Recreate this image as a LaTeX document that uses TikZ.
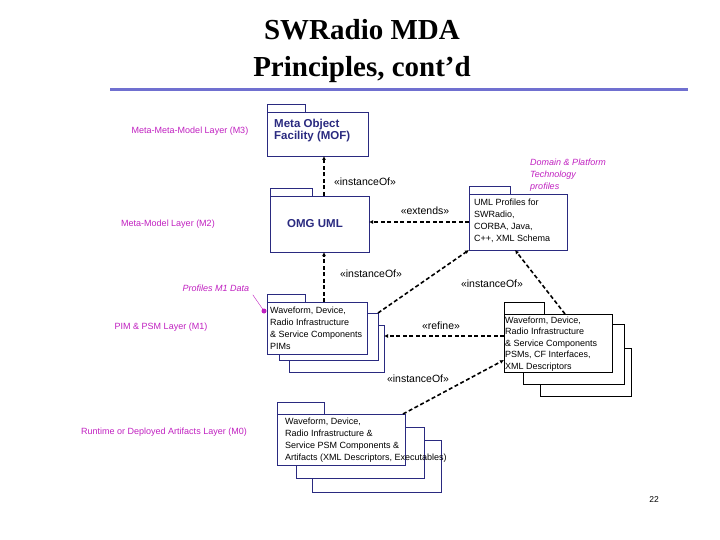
\documentclass[tikz,border=0pt]{standalone}
\usepackage{fontspec}
\setmainfont{Liberation Serif}
\newfontfamily\arial{Liberation Sans}
\usetikzlibrary{arrows.meta}
\definecolor{navy}{HTML}{2A2A80}
\definecolor{mag}{HTML}{C020C0}
\definecolor{rule}{HTML}{7070D0}
\begin{document}
\begin{tikzpicture}[x=1pt,y=-1pt,
  pkg/.style={draw=navy,fill=white,line width=0.8pt},
  lay/.style={text=mag,font=\arial\fontsize{9}{10}\selectfont},
  txt/.style={font=\arial\fontsize{9}{12}\selectfont,align=left,anchor=north west,inner sep=0pt},
  dep/.style={line width=1.6pt,dash pattern=on 4pt off 2.5pt,-{Latex[length=4pt,width=4pt]}},
  st/.style={font=\arial\fontsize{10.5}{12}\selectfont}]
\useasboundingbox (0,0) rectangle (720,540);
% title
\node[font=\bfseries\fontsize{29}{37}\selectfont,align=center] (title) at (362,51) {SWRadio MDA\\Principles, cont'd};
\draw[rule,line width=3pt] (110,90) -- (688,90);
% packages
\newcommand{\pk}[5]{\draw[pkg] (#1,#2) rectangle (#1+#3,#2+8); \draw[pkg] (#1,#2+8) rectangle (#4,#5);}
\pk{267}{104}{38}{368}{156}
\node[font=\arial\bfseries\fontsize{11.5}{11.5}\selectfont,text=navy,align=left,anchor=north west,inner sep=0pt] (mof) at (274,119) {Meta Object\\Facility (MOF)};
\pk{270}{188}{42}{369}{252}
\node[font=\arial\bfseries\fontsize{11.5}{12}\selectfont,text=navy] (uml) at (315,224) {OMG UML};
\pk{469}{186}{41}{567}{250}
\node[txt] (prof) at (474,199) {UML Profiles for\\SWRadio,\\CORBA, Java,\\C++, XML Schema};
% PIM stack
\draw[pkg] (289,325) rectangle (384,372);
\draw[pkg] (279,313) rectangle (378,360);
\pk{267}{294}{38}{367}{302}
\draw[pkg] (267,302) rectangle (367,354);
\node[txt] (pim) at (270,307) {Waveform, Device,\\Radio Infrastructure\\\& Service Components\\PIMs};
% PSM stack
\draw[pkg,draw=black] (540,348) rectangle (631,396);
\draw[pkg,draw=black] (523,324) rectangle (624,384);
\draw[pkg,draw=black] (504,302) rectangle (544,314);
\draw[pkg,draw=black] (504,314) rectangle (612,372);
\node[txt,font=\arial\fontsize{9}{11.5}\selectfont] (psm) at (505,316.5) {Waveform, Device,\\Radio Infrastructure\\\& Service Components\\PSMs, CF Interfaces,\\XML Descriptors};
% artifacts stack
\draw[pkg] (312,440) rectangle (441,492);
\draw[pkg] (296,427) rectangle (424,478);
\draw[pkg] (277,402) rectangle (324,414);
\draw[pkg] (277,414) rectangle (405,465);
\node[txt] (art) at (285,418) {Waveform, Device,\\Radio Infrastructure \&\\Service PSM Components \&\\Artifacts (XML Descriptors, Executables)};
% layer labels
\node[lay] (m3) at (190,131) {Meta-Meta-Model Layer (M3)};
\node[lay] (m2) at (168,224) {Meta-Model Layer (M2)};
\node[lay,font=\arial\itshape\fontsize{9}{10}\selectfont] (p1) at (216,288) {Profiles M1 Data};
\node[lay] (m1) at (161,327) {PIM \& PSM Layer (M1)};
\node[lay] (m0) at (164,432) {Runtime or Deployed Artifacts Layer (M0)};
\node[lay,font=\arial\itshape\fontsize{9}{12}\selectfont,align=left] (dom) at (568,175) {Domain \& Platform\\Technology\\profiles};
\coordinate (dot) at (264,311);
\draw[mag] (p1.south east) -- (dot);
\fill[mag] (dot) circle (2.5pt);
% connectors
\coordinate (mofb) at (324,156); \coordinate (umlt) at (324,196);
\coordinate (umll) at (369,222); \coordinate (profl) at (469,222);
\coordinate (umlb) at (324,252); \coordinate (pimt) at (324,302);
\coordinate (profb1) at (469,250); \coordinate (pimr) at (378,313);
\coordinate (profb2) at (515,250); \coordinate (psmt) at (565,314);
\coordinate (pimr2) at (384,336); \coordinate (psml) at (504,336);
\coordinate (psml2) at (504,360); \coordinate (artt) at (403,414);
\draw[dep] (umlt) -- (mofb);
\draw[dep] (profl) -- (umll);
\draw[dep] (pimt) -- (umlb);
\draw[dep] (pimr) -- (profb1);
\draw[dep] (psmt) -- (profb2);
\draw[dep] (psml) -- (pimr2);
\draw[dep] (artt) -- (psml2);
\node[st] (l1) at (365,182) {«instanceOf»};
\node[st] (l2) at (425,211) {«extends»};
\node[st] (l3) at (371,274) {«instanceOf»};
\node[st] (l4) at (492,284) {«instanceOf»};
\node[st] (l5) at (441,326) {«refine»};
\node[st] (l6) at (418,379) {«instanceOf»};
\node[font=\arial\fontsize{8.5}{9}\selectfont] (pg) at (654,500) {22};
\end{tikzpicture}
\end{document}
